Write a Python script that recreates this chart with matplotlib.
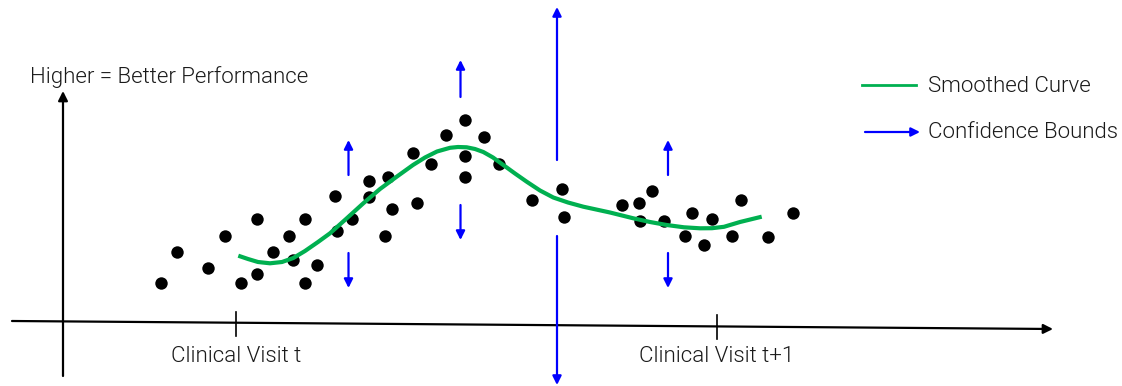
import matplotlib
matplotlib.use("Agg")
import matplotlib.pyplot as plt

# ---- data (coordinate frame: x = time position, y = performance, higher = better) ----
H = 386
pt_x = [160.7, 176.7, 208.3, 224.7, 240.7, 256.7, 256.7, 272.7, 288.7, 293.3, 304.7, 304.7,
        316.7, 334.7, 336.7, 351.7, 368.7, 368.7, 388.3, 391.7, 384.7, 413.3, 416.7, 430.7,
        446.0, 464.7, 464.7, 464.7, 484.3, 499.0, 532.0, 562.0, 564.0, 621.7, 639.3, 640.0,
        652.3, 664.0, 692.3, 685.0, 704.0, 711.7, 731.7, 740.7, 767.7, 793.3]
pt_y_px = [283.3, 251.7, 267.7, 235.7, 283.3, 219.3, 274.3, 251.7, 235.7, 260.0, 219.3, 283.3,
           265.0, 196.0, 230.7, 219.3, 181.0, 197.3, 177.0, 209.0, 235.7, 153.3, 203.3, 164.0,
           134.7, 119.7, 156.0, 177.3, 136.7, 164.0, 200.0, 189.0, 216.7, 205.0, 203.3, 220.7,
           191.0, 220.7, 213.3, 236.0, 245.0, 219.0, 236.0, 200.0, 237.0, 213.3]
pt_y = [H - v for v in pt_y_px]

curve_x = [238.3, 248, 258, 270, 282, 293.3, 305, 318, 330, 346, 363.3, 380, 396.7, 413,
           425, 437, 450, 458, 466.7, 475, 483.3, 493, 503.3, 515, 526.7, 540, 553.3, 568,
           583.3, 610, 633.3, 650, 666.7, 684, 700, 712, 724, 740, 761.7]
curve_y_px = [255.7, 259, 262, 263.3, 262, 258, 251, 242, 233.3, 219, 203.3, 189, 176.7, 165,
              157.5, 151.5, 147.8, 147, 147.3, 149, 152, 157.5, 165, 173.5, 181.7, 190.5, 197.5,
              202.5, 206.7, 212.5, 218.3, 222, 225, 227.3, 228.3, 228.2, 226.8, 222, 216.7]
curve_y = [H - v for v in curve_y_px]

# confidence bounds: x position, upper arrow (base, tip), lower arrow (base, tip)
ci_x = [348.5, 460.5, 557.0, 668.0]
ci_up_base = [175.0, 97.0, 160.0, 175.0]
ci_up_tip = [140.0, 60.0, 7.0, 140.0]
ci_dn_base = [253.0, 205.0, 236.0, 253.0]
ci_dn_tip = [288.0, 240.0, 385.0, 288.0]

tick_x = [236.0, 717.0]
tick_labels = ["Clinical Visit t", "Clinical Visit t+1"]

# ---- figure ----
fig = plt.figure(figsize=(11.22, 3.86), dpi=100)
ax = fig.add_axes([0, 0, 1, 1])
ax.set_xlim(0, 1122)
ax.set_ylim(0, H)
ax.axis("off")

FONT = "Roboto"
FW = 300
FS = 16
TXT = "#1a1a1a"
BLUE = "#0000FF"
GREEN = "#00B050"

# axes arrows
ax.annotate("", xy=(1053, H - 329), xytext=(12, H - 321),
            arrowprops=dict(arrowstyle="-|>", color="black", lw=1.6, mutation_scale=14,
                            shrinkA=0, shrinkB=0))
ax.annotate("", xy=(63, H - 91), xytext=(63, H - 376),
            arrowprops=dict(arrowstyle="-|>", color="black", lw=1.6, mutation_scale=14,
                            shrinkA=0, shrinkB=0))

# ticks on slanted axis
for tx, lab in zip(tick_x, tick_labels):
    yc = H - (321 + (tx - 12) / (1053 - 12) * 8)
    ax.plot([tx, tx], [yc + 11, yc - 13], color="black", lw=1.2)
    ax.text(tx, H - 357, lab, ha="center", va="center", fontsize=FS, family=FONT,
            fontweight=FW, color=TXT)

ax.text(30, H - 77, "Higher = Better Performance", ha="left", va="center", fontsize=FS,
        family=FONT, fontweight=FW, color=TXT)

# data points
ax.scatter(pt_x, pt_y, s=80, color="black", zorder=3, linewidths=0)

# smoothed curve
ax.plot(curve_x, curve_y, color=GREEN, lw=3.0, solid_capstyle="butt",
        solid_joinstyle="round", zorder=4)

# confidence arrows
for x, ub, ut, db, dt in zip(ci_x, ci_up_base, ci_up_tip, ci_dn_base, ci_dn_tip):
    for b, t in ((ub, ut), (db, dt)):
        ax.annotate("", xy=(x, H - t), xytext=(x, H - b),
                    arrowprops=dict(arrowstyle="-|>", color=BLUE, lw=1.6, mutation_scale=13,
                                    shrinkA=0, shrinkB=0), zorder=5)

# legend
ax.plot([862, 916], [H - 85, H - 85], color=GREEN, lw=2.0)
ax.text(928, H - 86, "Smoothed Curve", ha="left", va="center", fontsize=FS, family=FONT,
        fontweight=FW, color=TXT)
ax.annotate("", xy=(920, H - 132), xytext=(865, H - 132),
            arrowprops=dict(arrowstyle="-|>", color=BLUE, lw=1.6, mutation_scale=13,
                            shrinkA=0, shrinkB=0))
ax.text(928, H - 133, "Confidence Bounds", ha="left", va="center", fontsize=FS, family=FONT,
        fontweight=FW, color=TXT)

fig.savefig("out.png", dpi=100)
